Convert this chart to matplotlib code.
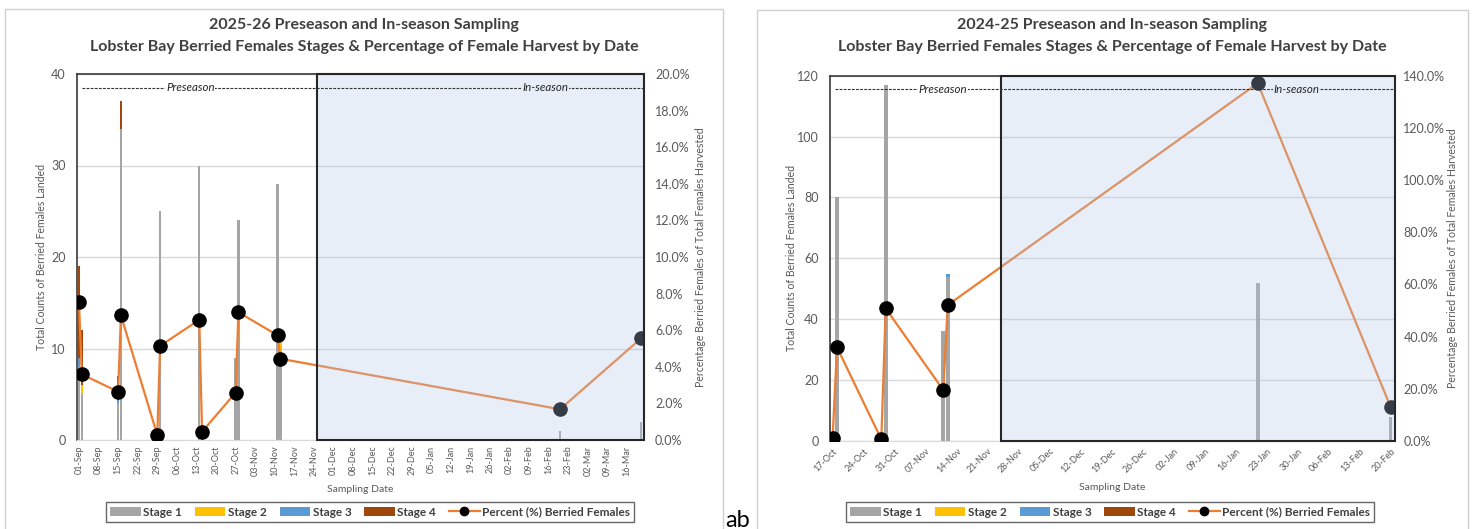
"""
Lobster Bay berried females: stage counts (stacked bars) and percent of
female harvest (line) by sampling date, 2025-26 and 2024-25 side by side.
"""

import matplotlib
matplotlib.use("Agg")
import matplotlib.pyplot as plt
import matplotlib.dates as mdates
from matplotlib.patches import Patch, Rectangle
from matplotlib.lines import Line2D
from matplotlib.ticker import PercentFormatter, MultipleLocator
import numpy as np
import pandas as pd

plt.rcParams["font.family"] = ["Lato", "DejaVu Sans"]

# ── 2025-26 season ────────────────────────────────────────────────
DATES_2526 = ["2025-09-01", "2025-09-02", "2025-09-15", "2025-09-16",
              "2025-09-29", "2025-09-30", "2025-10-14", "2025-10-15",
              "2025-10-27", "2025-10-28", "2025-11-11", "2025-11-12",
              "2026-02-20", "2026-03-21"]
STAGE1_2526 = [8, 5, 4, 34, 1, 25, 30, 1, 9, 24, 28, 9, 1, 2]
STAGE2_2526 = [0, 1, 0, 0, 0, 0, 0, 0, 0, 0, 0, 2, 0, 0]
STAGE3_2526 = [1, 0, 1, 0, 0, 0, 0, 0, 0, 0, 0, 0, 0, 0]
STAGE4_2526 = [10, 6, 2, 3, 0, 0, 0, 0, 0, 0, 0, 0, 0, 0]
PCT_2526 = [7.56, 3.59, 2.64, 6.81, 0.27, 5.14, 6.57, 0.45,
            2.59, 6.98, 5.72, 4.44, 1.68, 5.56]
SEASON_START_2526 = "2025-11-25"
XRANGE_2526 = ("2025-08-31 07:00", "2026-03-22 00:00")
TICK_START_2526, TICK_END_2526 = "2025-09-01", "2026-03-16"

# ── 2024-25 season ────────────────────────────────────────────────
DATES_2425 = ["2024-10-17", "2024-10-18", "2024-10-28", "2024-10-29",
              "2024-11-11", "2024-11-12", "2025-01-21", "2025-02-20"]
STAGE1_2425 = [1, 80, 1, 117, 36, 54, 52, 8]
STAGE2_2425 = [0, 0, 0, 0, 0, 0, 0, 0]
STAGE3_2425 = [0, 0, 0, 0, 0, 1, 0, 0]
STAGE4_2425 = [0, 0, 0, 0, 0, 0, 0, 0]
PCT_2425 = [1.0, 35.9, 0.65, 50.8, 19.5, 52.1, 137.1, 13.1]
SEASON_START_2425 = "2024-11-24"
XRANGE_2425 = ("2024-10-16 10:00", "2025-02-21 00:00")
TICK_START_2425, TICK_END_2425 = "2024-10-17", "2025-02-20"

STAGE_LABELS = ["Stage 1", "Stage 2", "Stage 3", "Stage 4"]
STAGE_COLORS = ["#A5A5A5", "#FFC000", "#5B9BD5", "#9E480E"]
LINE_COLOR = "#ED7D31"
TEXT_GREY = "#595959"
GRID = "#D9D9D9"
SHADE = "#B4C7E7"

W, H = 1479, 529


def fx(px):
    return px / W


def fy(py):
    return 1 - py / H


def to_num(d):
    return mdates.date2num(pd.Timestamp(d))


def draw_panel(fig, rect, dates, stages, pct, start, xrange_,
               ticks, ymax, ystep, pmax, pstep, rot, pads, ppad=8):
    ax = fig.add_axes(rect)
    ax2 = ax.twinx()

    x = np.array([to_num(d) for d in dates])
    bottom = np.zeros(len(x))
    for vals, col in zip(stages, STAGE_COLORS):
        vals = np.array(vals, dtype=float)
        ax.bar(x, vals, width=0.85, bottom=bottom, color=col, zorder=2,
               linewidth=0)
        bottom += vals

    ax.set_xlim(to_num(xrange_[0]), to_num(xrange_[1]))
    ax.set_ylim(0, ymax)
    ax.yaxis.set_major_locator(MultipleLocator(ystep))
    ax.grid(axis="y", color=GRID, linewidth=1, zorder=0)
    ax.set_axisbelow(True)

    tick_dates = pd.date_range(ticks[0], ticks[1], freq="7D")
    ax.set_xticks([to_num(d) for d in tick_dates])
    ax.set_xticklabels([d.strftime("%d-%b") for d in tick_dates],
                       rotation=rot, ha="center" if rot == 90 else "right",
                       rotation_mode="default" if rot == 90 else "anchor",
                       fontsize=6.5, color=TEXT_GREY)
    ax.tick_params(axis="both", length=0)
    ax.tick_params(axis="x", pad=4)
    ax.tick_params(axis="y", labelsize=9, labelcolor=TEXT_GREY, pad=8)
    ax.set_ylabel("Total Counts of Berried Females Landed", fontsize=7.6,
                  color=TEXT_GREY, labelpad=pads[0])
    ax.set_xlabel("Sampling Date", fontsize=7.5, color=TEXT_GREY,
                  labelpad=6)

    for side in ["left", "top"]:
        ax.spines[side].set_color("#3A3A3A")
        ax.spines[side].set_linewidth(1.2)
    ax.spines["bottom"].set_color(GRID)
    ax.spines["right"].set_visible(False)

    # percent line on secondary axis
    ax2.plot(x, pct, color=LINE_COLOR, linewidth=1.6, marker="o",
             markersize=9.5, markerfacecolor="black",
             markeredgecolor="black", zorder=3)
    ax2.set_ylim(0, pmax)
    ax2.yaxis.set_major_locator(MultipleLocator(pstep))
    ax2.yaxis.set_major_formatter(PercentFormatter(xmax=100, decimals=1))
    ax2.tick_params(axis="y", length=0, labelsize=9, labelcolor=TEXT_GREY,
                    pad=ppad)
    ax2.set_ylabel("Percentage Berried Females of Total Females Harvested",
                   fontsize=7.6, color=TEXT_GREY, labelpad=pads[1])
    for s in ax2.spines.values():
        s.set_visible(False)

    # in-season overlay and border
    x0 = to_num(start)
    x1 = ax.get_xlim()[1]
    ax2.axvspan(x0, x1, facecolor=SHADE, alpha=0.3, edgecolor="none",
                zorder=5)
    ax2.add_patch(Rectangle((x0, 0), x1 - x0, pmax, fill=False,
                            edgecolor="#262626", linewidth=1.5, zorder=6,
                            clip_on=False))

    # season divider line with labels
    ax2.plot([0.008, 1], [0.963, 0.963], transform=ax2.transAxes,
             color="#333333", linewidth=0.8, linestyle=(0, (2.5, 1.2)),
             zorder=7)
    ax2.text(0.2, 0.963, "Preseason", transform=ax2.transAxes,
             ha="center", va="center", fontsize=8.3, style="italic",
             color="#262626", zorder=8,
             bbox=dict(facecolor="white", edgecolor="none", pad=0.5))
    ax2.text(0.826, 0.963, "In-season", transform=ax2.transAxes,
             ha="center", va="center", fontsize=8.3, style="italic",
             color="#262626", zorder=8,
             bbox=dict(facecolor="#E8EEF8", edgecolor="none", pad=0.5))
    return ax, ax2


def add_frame(fig, x0, x1, y0, title, cx, leg_cx):
    fig.add_artist(Rectangle((fx(x0), -0.02), fx(x1 - x0), fy(y0) + 0.02,
                             transform=fig.transFigure, fill=False,
                             edgecolor="#D0D0D0", linewidth=1))
    fig.text(fx(cx), fy(25), title[0], ha="center", va="center",
             fontsize=11.5, fontweight="bold", color="#404040")
    fig.text(fx(cx), fy(47), title[1], ha="center", va="center",
             fontsize=11.5, fontweight="bold", color="#404040")

    handles = [Patch(facecolor=c, edgecolor="none", label=l)
               for c, l in zip(STAGE_COLORS, STAGE_LABELS)]
    handles.append(Line2D([], [], color=LINE_COLOR, linewidth=1.6,
                          marker="o", markersize=6, markerfacecolor="black",
                          markeredgecolor="black",
                          label="Percent (%) Berried Females"))
    leg = fig.legend(handles=handles, ncol=5, loc="center",
                     bbox_to_anchor=(fx(leg_cx), fy(512)), frameon=True,
                     fancybox=False, fontsize=8.5, handlelength=2.6,
                     handleheight=0.7, handletextpad=0.2,
                     columnspacing=1.1, borderpad=0.35)
    leg.get_frame().set_edgecolor("#404040")
    leg.get_frame().set_linewidth(1)
    for t in leg.get_texts():
        t.set_fontweight("bold")
        t.set_color("#404040")


def main():
    fig = plt.figure(figsize=(W / 100, H / 100), dpi=100)
    fig.patch.set_facecolor("white")

    draw_panel(fig, [fx(77), fy(440), fx(644 - 77), (440 - 74) / H],
               DATES_2526,
               [STAGE1_2526, STAGE2_2526, STAGE3_2526, STAGE4_2526],
               PCT_2526, SEASON_START_2526, XRANGE_2526,
               (TICK_START_2526, TICK_END_2526), 40, 10, 20, 2, 90,
               (3, 4))
    draw_panel(fig, [fx(830), fy(441), fx(1395 - 830), (441 - 75.7) / H],
               DATES_2425,
               [STAGE1_2425, STAGE2_2425, STAGE3_2425, STAGE4_2425],
               PCT_2425, SEASON_START_2425, XRANGE_2425,
               (TICK_START_2425, TICK_END_2425), 120, 20, 140, 20, 45,
               (0, 1), ppad=6)

    add_frame(fig, 5, 723, 9,
              ("2025-26 Preseason and In-season Sampling",
               "Lobster Bay Berried Females Stages & Percentage of Female Harvest by Date"),
              364, 370)
    add_frame(fig, 757, 1468, 10,
              ("2024-25 Preseason and In-season Sampling",
               "Lobster Bay Berried Females Stages & Percentage of Female Harvest by Date"),
              1112, 1110)

    fig.text(fx(725), fy(527), "ab", fontsize=17, color="black",
             ha="left", va="baseline")

    fig.savefig("out.png", dpi=100, facecolor="white")
    plt.close(fig)


if __name__ == "__main__":
    main()
